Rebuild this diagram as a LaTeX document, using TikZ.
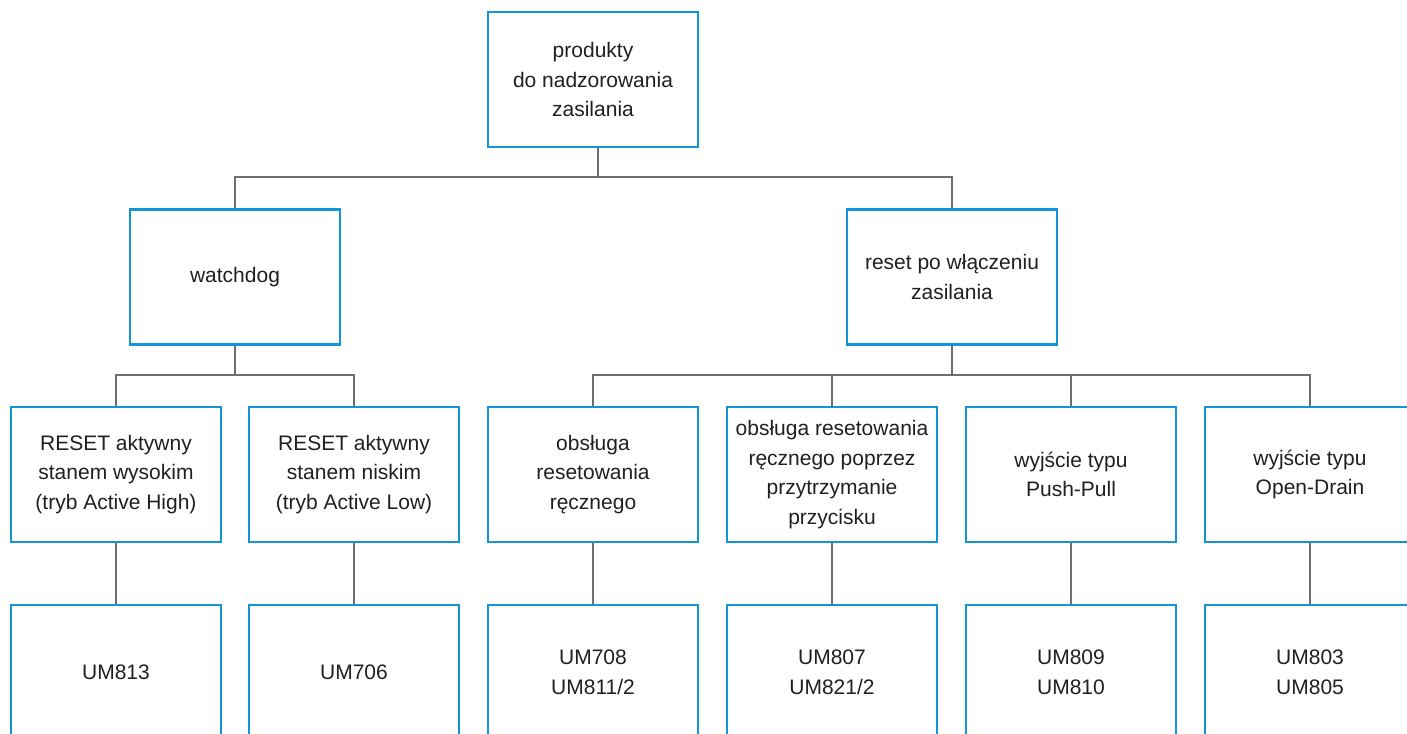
\documentclass[tikz,border=0pt]{standalone}
\usepackage{fontspec}
\setmainfont{Liberation Sans}
\usepackage{tikz}
\definecolor{boxblue}{HTML}{1396D8}
\definecolor{linegray}{HTML}{6D6E71}
\definecolor{textgray}{HTML}{231F20}

\begin{document}
\begin{tikzpicture}[x=1pt,y=-1pt,
    box/.style={draw=boxblue,line width=2.8pt,fill=white,text=textgray,
      minimum width=210,minimum height=135,inner sep=0pt,align=center,
      font=\fontsize{21}{29.5}\selectfont},
    link/.style={draw=linegray,line width=2.8pt}]
    \useasboundingbox (0,0) rectangle (1407,733);
    \clip (0,0) rectangle (1407,733);

    % levels 1 and 2
    \node[box] (top) at (593,79.5) {produkty\\do nadzorowania\\zasilania};
    \node[box] (wd) at (235,277) {watchdog};
    \node[box] (rs) at (952,277) {reset po włączeniu\\zasilania};
    \coordinate (bus1) at (0,177);
    \coordinate (bus2) at (0,375);

    % level 3 and products
    \foreach \i/\x/\name/\prod in {
      1/116/{RESET aktywny\\stanem wysokim\\(tryb Active High)}/{UM813},
      2/354/{RESET aktywny\\stanem niskim\\(tryb Active Low)}/{UM706},
      3/593/{obsługa\\resetowania\\ręcznego}/{UM708\\UM811/2},
      4/832/{obsługa resetowania\\ręcznego poprzez\\przytrzymanie\\przycisku}/{UM807\\UM821/2},
      5/1071/{wyjście typu\\Push-Pull}/{UM809\\UM810},
      6/1310/{wyjście typu\\Open-Drain}/{UM803\\UM805}}
    {
      \node[box] (f\i) at (\x,474.5) {\name};
      \node[box] (p\i) at (\x,672.5) {\prod};
      \path[link] (f\i.south) -- (p\i.north);
    }

    \path[link]
      ([xshift=5]top.south) -- ([xshift=5]top.south |- bus1)
      (wd.north) -- (wd.north |- bus1) -| (rs.north)
      (wd.south) -- (wd.south |- bus2)
      (f1.north) -- (f1.north |- bus2) -| (f2.north)
      (rs.south) -- (rs.south |- bus2)
      (f3.north) -- (f3.north |- bus2) -| (f6.north)
      (f4.north) -- (f4.north |- bus2)
      (f5.north) -- (f5.north |- bus2);
\end{tikzpicture}
\end{document}
